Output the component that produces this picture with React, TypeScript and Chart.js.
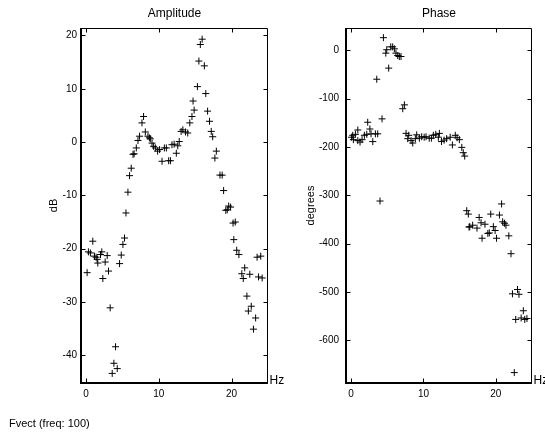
import React, { useEffect, useRef } from "react";
import { Chart, registerables } from "chart.js";
Chart.register(...registerables);

// ---------- data ----------
const ampFreq = [
  0.14, 0.32, 0.59, 0.92, 1.15, 1.38, 1.52, 1.61, 1.98, 2.16, 2.3, 2.62, 2.9, 3.08, 3.31, 3.59, 3.82, 4.05, 4.28, 4.6,
  4.83, 5.06, 5.28, 5.48, 5.75, 5.97, 6.2, 6.45, 6.6, 6.9, 7.13, 7.35, 7.68, 7.9, 8.14, 8.5, 8.7, 8.83, 9.06, 9.28,
  9.52, 9.83, 10.1, 10.44, 10.76, 11.03, 11.35, 11.59, 11.8, 12.1, 12.4, 12.6, 12.8, 13.06, 13.3, 13.66, 13.97, 14.25,
  14.55, 14.85, 14.7, 15.3, 15.5, 15.7, 15.95, 16.25, 16.45, 16.7, 16.96, 17.2, 17.4, 17.9, 17.7, 18.4, 18.7, 18.9,
  19.2, 19.4, 19.6, 19.86, 20.2, 20.5, 20.3, 20.7, 21.0, 21.4, 21.6, 21.8, 22.1, 22.3, 22.5, 22.7, 23.0, 23.3, 23.5,
  23.7, 24.0, 24.2,
];
const ampDb = [
  -24.5, -20.6, -20.8, -18.6, -21.4, -21.6, -22.0, -22.7, -21.1, -20.6, -25.6, -22.5, -21.3, -24.2, -31.1, -43.4, -41.5,
  -38.4, -42.5, -22.8, -21.2, -19.2, -18.0, -13.3, -9.4, -6.3, -4.9, -2.3, -2.2, -1.1, 0.3, 1.1, 3.6, 4.8, 1.9, 1.1,
  0.8, 0.6, -0.2, -0.8, -1.1, -1.7, -1.4, -3.6, -1.1, -1.1, -3.5, -3.5, -0.5, -0.4, -2.1, -0.7, 0.1, 2.0, 2.3, 1.9,
  1.7, 3.6, 4.8, 6.0, 7.7, 10.4, 15.2, 18.3, 19.3, 14.3, 9.1, 5.8, 3.9, 2.0, 1.0, -1.7, -3.0, -6.2, -6.2, -9.1, -12.8,
  -12.7, -12.0, -12.2, -15.2, -15.0, -18.3, -20.3, -21.1, -24.7, -25.6, -23.6, -28.9, -31.7, -24.8, -30.8, -35.1,
  -33.0, -21.6, -25.3, -21.4, -25.5,
];

const phaseFreq = [
  0.05, 0.23, 0.32, 0.6, 0.93, 0.93, 1.24, 1.52, 1.84, 2.17, 2.3, 2.6, 2.76, 3.0, 3.36, 3.55, 3.68, 4.0, 4.28, 4.47,
  4.8, 4.93, 5.2, 5.48, 5.75, 5.98, 6.2, 6.45, 6.67, 6.9, 7.14, 7.37, 7.6, 7.83, 7.97, 8.29, 8.52, 8.88, 9.07, 9.44,
  9.76, 10.1, 10.36, 10.8, 11.1, 11.37, 11.7, 12.06, 12.2, 12.5, 12.85, 13.2, 13.7, 14.0, 14.4, 14.65, 14.96, 15.3,
  15.5, 15.7, 15.98, 16.2, 16.3, 16.4, 16.8, 17.4, 17.7, 17.96, 18.1, 18.5, 18.9, 19.1, 19.3, 19.66, 19.9, 20.1, 20.5,
  20.8, 20.95, 21.2, 21.4, 21.8, 22.1, 22.3, 22.55, 22.75, 23.0, 23.2, 23.5, 23.8, 24.0, 24.3,
];
const phaseDeg = [
  -180, -176, -185, -174, -165, -187, -190, -185, -176, -174, -149, -163, -173, -189, -173, -60, -173, -312, -142, 26,
  -6, 1, -37, 7, 7, 3, -6, -11, -13, -13, -121, -113, -172, -183, -176, -187, -192, -183, -175, -182,
  -179, -180, -179, -182, -182, -176, -174, -180, -172, -189, -186, -183, -180, -196, -176, -181, -185, -201,
  -212, -219, -332, -339, -366, -365, -362, -368, -346, -357, -389, -360, -379, -378, -339, -365, -373, -389, -341,
  -318, -355, -358, -362, -384, -421, -504, -667, -557, -495, -505, -554, -539, -557, -555,
];

const freqTicks = [0, 10, 20];
const ampTicks = [20, 10, 0, -10, -20, -30, -40];
const phaseTicks = [0, -100, -200, -300, -400, -500, -600];
const titles = ["Amplitude", "Phase"];
const yLabels = ["dB", "degrees"];
const xUnit = "Hz";
const footer = "Fvect (freq: 100)";

const FONT = "'Liberation Sans', Arial, Helvetica, sans-serif";
Chart.defaults.font.family = FONT;
Chart.defaults.color = "#000";

const framePlugin = {
  id: "frame",
  afterDraw(chart: any, _args: any, opts: any) {
    const { ctx, chartArea: a, scales } = chart;
    ctx.save();
    ctx.strokeStyle = "#000";
    ctx.lineWidth = 1;
    const L = Math.round(a.left) + 0.5;
    const R = Math.round(a.right) - 0.5;
    const T = Math.round(a.top) + 0.5;
    const B = Math.round(a.bottom) - 0.5;
    ctx.beginPath();
    ctx.rect(L, T, R - L, B - T);
    const tl = 4;
    for (const t of scales.x.ticks) {
      const px = Math.round(scales.x.getPixelForValue(t.value)) + 0.5;
      ctx.moveTo(px, B);
      ctx.lineTo(px, B - tl);
      ctx.moveTo(px, T);
      ctx.lineTo(px, T + tl);
    }
    for (const t of scales.y.ticks) {
      const py = Math.round(scales.y.getPixelForValue(t.value)) + 0.5;
      ctx.moveTo(L, py);
      ctx.lineTo(L + tl, py);
      ctx.moveTo(R, py);
      ctx.lineTo(R - tl, py);
    }
    ctx.stroke();
    // thicker left / bottom axes
    ctx.beginPath();
    ctx.lineWidth = 2;
    ctx.moveTo(Math.round(a.left), Math.round(a.top));
    ctx.lineTo(Math.round(a.left), Math.round(a.bottom));
    ctx.lineTo(Math.round(a.right), Math.round(a.bottom));
    ctx.stroke();

    ctx.fillStyle = "#000";
    ctx.font = `12px ${FONT}`;
    ctx.textAlign = "left";
    ctx.textBaseline = "alphabetic";
    if (opts.unit) ctx.fillText(opts.unit, a.right + 1.5, a.bottom + 0.5);
    if (opts.footer) {
      ctx.font = `11px ${FONT}`;
      ctx.fillText(opts.footer, 9, 427);
    }
    ctx.restore();
  },
};

function makeConfig(
  xs: number[],
  ys: number[],
  yTicks: number[],
  yMin: number,
  yMax: number,
  title: string,
  yLabel: string,
  yWidth: number,
  padRight: number,
  labelPad: number,
  tickPad: number,
  withFooter: boolean
): any {
  return {
    type: "scatter",
    data: {
      datasets: [
        {
          data: xs.map((x, i) => ({ x, y: ys[i] })),
          pointStyle: "cross",
          pointRadius: 3.5,
          pointBorderWidth: 1,
          borderColor: "#000",
          backgroundColor: "#000",
          showLine: false,
        },
      ],
    },
    options: {
      responsive: false,
      animation: false,
      events: [],
      layout: { padding: { left: 0, right: padRight, top: 0, bottom: 0 } },
      plugins: {
        legend: { display: false },
        tooltip: { enabled: false },
        title: {
          display: true,
          text: title,
          fullSize: false,
          font: { size: 12, weight: "normal", family: FONT },
          color: "#000",
          padding: { top: 6, bottom: 7.6 },
        },
        frame: { unit: xUnit, footer: withFooter ? footer : "" },
      },
      scales: {
        x: {
          type: "linear",
          min: -0.7,
          max: 25,
          grid: { display: false, drawTicks: false },
          border: { display: false },
          afterBuildTicks: (s: any) => {
            s.ticks = freqTicks.map((v) => ({ value: v }));
          },
          afterFit: (s: any) => {
            s.height = 51;
          },
          ticks: {
            font: { size: 10, family: FONT },
            color: "#000",
            padding: 5,
            maxRotation: 0,
            callback: (v: any) => String(v),
          },
        },
        y: {
          type: "linear",
          min: yMin,
          max: yMax,
          grid: { display: false, drawTicks: false },
          border: { display: false },
          afterBuildTicks: (s: any) => {
            s.ticks = yTicks.map((v) => ({ value: v }));
          },
          afterFit: (s: any) => {
            s.width = yWidth;
          },
          ticks: {
            font: { size: 10, family: FONT },
            color: "#000",
            padding: tickPad,
            callback: (v: any) => String(v),
          },
          title: {
            display: true,
            text: yLabel,
            font: { size: 11, family: FONT },
            color: "#000",
            padding: { top: labelPad, bottom: 0 },
          },
        },
      },
    },
    plugins: [framePlugin],
  };
}

export default function App() {
  const leftRef = useRef<HTMLCanvasElement>(null);
  const rightRef = useRef<HTMLCanvasElement>(null);

  useEffect(() => {
    const c1 = new Chart(
      leftRef.current as HTMLCanvasElement,
      makeConfig(ampFreq, ampDb, ampTicks, -45.2, 21.4, titles[0], yLabels[0], 81, 22, 47.4, 4, true)
    );
    const c2 = new Chart(
      rightRef.current as HTMLCanvasElement,
      makeConfig(phaseFreq, phaseDeg, phaseTicks, -688.5, 46, titles[1], yLabels[1], 56, 13, 14.4, 7, false)
    );
    return () => {
      c1.destroy();
      c2.destroy();
    };
  }, []);

  return (
    <div
      style={{
        position: "fixed",
        left: 0,
        top: 0,
        width: 545,
        height: 434,
        background: "#fff",
        overflow: "hidden",
      }}
    >
      <canvas
        ref={leftRef}
        width={290}
        height={434}
        style={{ position: "absolute", left: 0, top: 0, width: 290, height: 434 }}
      />
      <canvas
        ref={rightRef}
        width={255}
        height={434}
        style={{ position: "absolute", left: 290, top: 0, width: 255, height: 434 }}
      />
    </div>
  );
}
